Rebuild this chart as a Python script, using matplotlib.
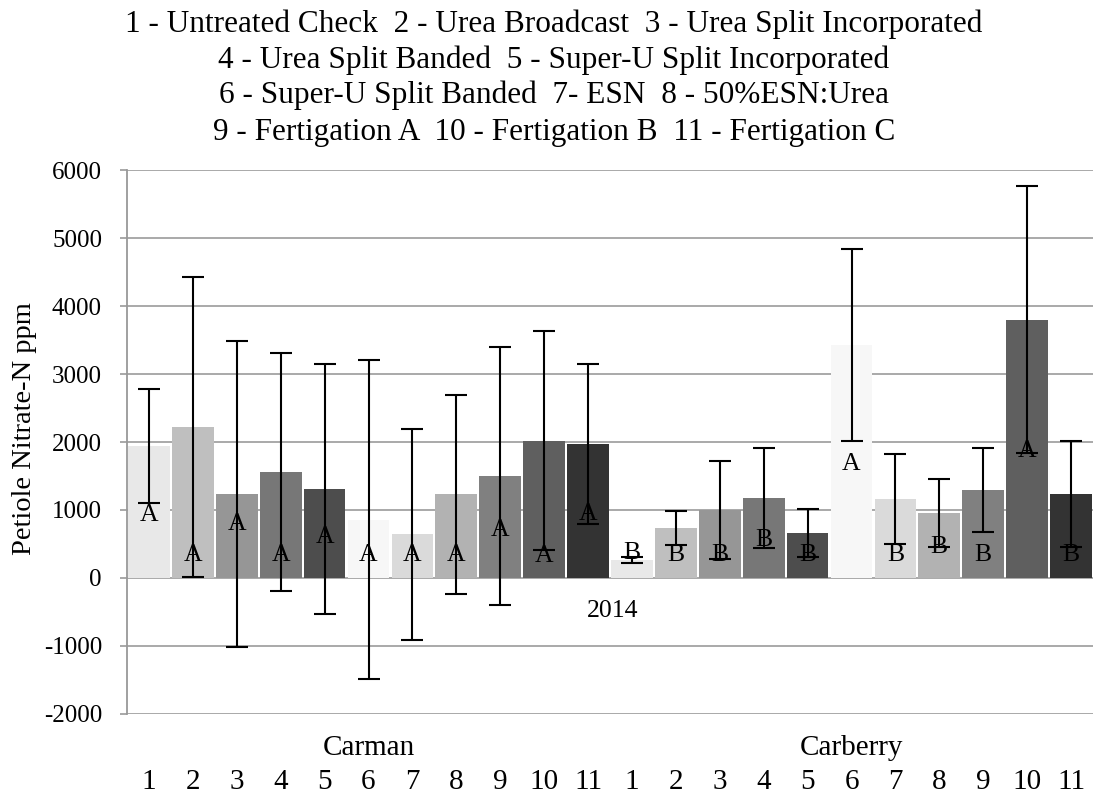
import numpy as np
import matplotlib
matplotlib.use('Agg')
import matplotlib.pyplot as plt
import matplotlib.transforms as mtransforms

plt.rcParams['font.family'] = ['Liberation Serif', 'DejaVu Serif']
plt.rcParams['axes.unicode_minus'] = False

# treatment numbers and sites
treatments = ['1', '2', '3', '4', '5', '6', '7', '8', '9', '10', '11']
sites = ['Carman', 'Carberry']
year = '2014'

# petiole nitrate means and error (ppm)
carman_means = [1940, 2220, 1235, 1560, 1310, 860, 645, 1230, 1500, 2020, 1970]
carman_err = [840, 2210, 2250, 1750, 1840, 2345, 1550, 1460, 1900, 1610, 1180]
carberry_means = [260, 740, 1000, 1175, 665, 3430, 1160, 960, 1295, 3800, 1240]
carberry_err = [45, 250, 720, 735, 355, 1410, 660, 500, 618, 1960, 780]

# significance letters and where they sit
carman_letters = ['A'] * 11
carberry_letters = ['B', 'B', 'B', 'B', 'B', 'A', 'B', 'B', 'B', 'A', 'B']
carman_letter_y = [920, 340, 790, 340, 600, 340, 340, 340, 700, 320, 940]
carberry_letter_y = [370, 340, 340, 560, 340, 1680, 340, 450, 340, 1870, 340]

bar_colors = ['#e8e8e8', '#bfbfbf', '#969696', '#777777', '#4d4d4d', '#f7f7f7',
              '#dadada', '#b2b2b2', '#808080', '#5f5f5f', '#333333']

title_lines = ['1 - Untreated Check  2 - Urea Broadcast  3 - Urea Split Incorporated',
               '4 - Urea Split Banded  5 - Super-U Split Incorporated',
               '6 - Super-U Split Banded  7- ESN  8 - 50%ESN:Urea',
               '9 - Fertigation A  10 - Fertigation B  11 - Fertigation C']

means = carman_means + carberry_means
errs = carman_err + carberry_err
letters = carman_letters + carberry_letters
letter_y = carman_letter_y + carberry_letter_y
colors = bar_colors * 2
x = np.arange(len(means))

fig = plt.figure(figsize=(10.94, 7.96), dpi=100)
ax = fig.add_axes([127 / 1094, 1 - 714 / 796, (1093 - 127) / 1094, (714 - 170) / 796])

ax.bar(x, means, width=0.95, color=colors, zorder=2)
ax.errorbar(x, means, yerr=errs, fmt='none', ecolor='black', elinewidth=1.5,
            capsize=8, capthick=1.5, zorder=3)
for xi, yi, s in zip(x, letter_y, letters):
    ax.text(xi, yi, s, ha='center', va='center', fontsize=18.5, zorder=4)

ax.set_xlim(-0.5, len(means) - 0.5)
ax.set_ylim(-2000, 6000)
ax.set_yticks(np.arange(-2000, 6001, 1000))
ax.tick_params(axis='y', labelsize=18, color='#999999', length=5, width=1.2, pad=13)
ax.set_xticks([])
ax.grid(axis='y', color='#a3a3a3', linewidth=1.3, zorder=0)
ax.set_axisbelow(True)
for side in ['top', 'right', 'bottom']:
    ax.spines[side].set_visible(False)
ax.spines['left'].set_color('#999999')
ax.spines['left'].set_linewidth(1.3)

ax.set_ylabel('Petiole Nitrate-N ppm', fontsize=20.5)
ax.yaxis.set_label_coords(-(127 - 37) / 966, (714 - 429) / 544)

# multi-level category labels
trans = mtransforms.blended_transform_factory(ax.transData, ax.transAxes)
for xi in x:
    ax.text(xi, -0.125, treatments[xi % 11], transform=trans, ha='center', va='center',
            fontsize=21, clip_on=False)
for i, site in enumerate(sites):
    ax.text(i * 11 + 5, -0.062, site, transform=trans, ha='center', va='center',
            fontsize=21, clip_on=False)
ax.text(10.55, 0.19, year, transform=trans, ha='center', va='center', fontsize=18.5)

baselines = [32, 68, 103, 140]
for line, b in zip(title_lines, baselines):
    fig.text(554 / 1094, 1 - b / 796, line, ha='center', va='baseline', fontsize=22.5)

fig.savefig('out.png', dpi=100)
